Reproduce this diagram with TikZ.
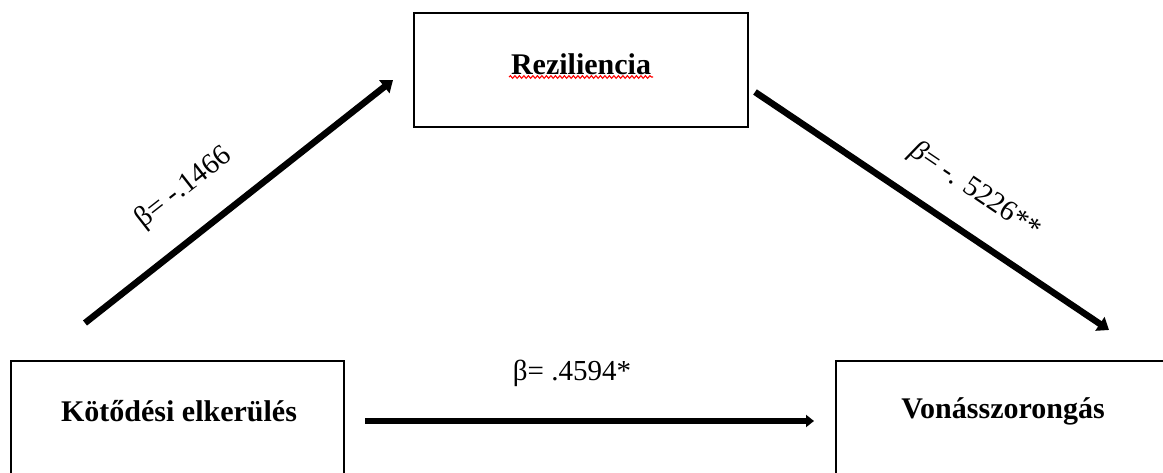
\documentclass[tikz,border=0pt]{standalone}
\usepackage{fontspec}
\setmainfont{Liberation Serif}
\usetikzlibrary{arrows.meta,decorations.pathmorphing}
\begin{document}
\begin{tikzpicture}[x=1pt,y=-1pt,
  box/.style={draw=black,line width=2.6pt,rectangle,inner sep=0pt},
  btext/.style={font=\fontsize{30}{36}\selectfont\bfseries,inner sep=0pt},
  lbl/.style={font=\fontsize{29}{34}\selectfont,inner sep=0pt},
  arr/.style={line width=6.5pt,-{Triangle[length=11pt,width=16pt]}},
  harr/.style={line width=5.5pt,-{Triangle[length=8pt,width=12pt]}}]
\useasboundingbox (0,0) rectangle (1163,473);
\clip (0,0) rectangle (1163,473);
% boxes
\node[box,minimum width=334pt,minimum height=114pt] (rez) at (581,70) {};
\node[btext] (rezT) at (581,64) {Reziliencia};
\draw[red,line width=1.1pt,decorate,decoration={snake,amplitude=1.3pt,segment length=4.5pt}]
  ([xshift=-72pt,yshift=-13pt]rezT.center) coordinate (w1) -- ([xshift=72pt,yshift=-13pt]rezT.center) coordinate (w2);
\node[box,minimum width=333pt,minimum height=160pt] (kot) at (177.5,441) {};
\node[btext] (kotT) at (179,411) {Kötődési elkerülés};
\node[box,minimum width=334pt,minimum height=160pt] (von) at (1003,441) {};
\node[btext] (vonT) at (1003,411) {Vonásszorongás};
% arrow end points
\coordinate (a1s) at (85,323);
\coordinate (a1e) at (393,80);
\coordinate (a2s) at (755,92);
\coordinate (a2e) at (1109,330);
\coordinate (a3s) at (365,421);
\coordinate (a3e) at (814,421);
\draw[arr] (a1s) -- (a1e);
\draw[arr] (a2s) -- (a2e);
\draw[harr] (a3s) -- (a3e);
% labels
\node[lbl,rotate=38] (l1) at (184,188) {β= -.1466};
\node[lbl,rotate=-34] (l2) at (975,191) {\textit{β}= -. 5226**};
\node[lbl] (l3) at (572,373) {β= .4594*};
\end{tikzpicture}
\end{document}
